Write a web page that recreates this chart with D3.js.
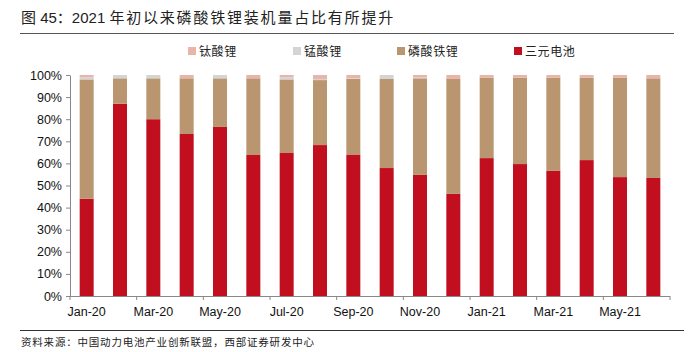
<!DOCTYPE html>
<html>
<head>
<meta charset="utf-8">
<script src="https://cdn.jsdelivr.net/npm/d3@7"></script>
<style>
  body { margin: 0; background: #fff; }
  text { font-family: "Liberation Sans", Arial, "Noto Sans CJK SC", sans-serif; }
  .cjk { font-family: "Liberation Sans", "Noto Sans CJK SC", sans-serif; }
</style>
</head>
<body>
<div id="chart"></div>
<script>
// data (percent)
const months = ["Jan-20", "Feb-20", "Mar-20", "Apr-20", "May-20", "Jun-20", "Jul-20", "Aug-20", "Sep-20",
  "Oct-20", "Nov-20", "Dec-20", "Jan-21", "Feb-21", "Mar-21", "Apr-21", "May-21", "Jun-21"];
const ternary = [44, 87, 80, 73.3, 76.5, 63.8, 64.7, 68.3, 63.8, 57.9, 54.8, 46.2, 62.4, 59.7, 56.6, 61.5, 53.8, 53.4];
const lfp = [54, 11.5, 18.5, 25.2, 22, 34.7, 33.3, 29.4, 34.4, 40.3, 43.7, 52, 36.4, 39.1, 42.2, 37.3, 45, 45.1];
const lmo = [1, 1.5, 1.5, 0, 1.5, 0, 1, 0.5, 0.3, 1.8, 0.3, 0, 0, 0, 0, 0, 0, 0];
const lto = [1, 0, 0, 1.5, 0, 1.5, 1, 1.8, 1.5, 0, 1.2, 1.8, 1.2, 1.2, 1.2, 1.2, 1.2, 1.5];
const yTicks = [0, 10, 20, 30, 40, 50, 60, 70, 80, 90, 100];

const seriesNames = ["三元电池", "磷酸铁锂", "锰酸锂", "钛酸锂"];
const colors = { "三元电池": "#C20F1F", "磷酸铁锂": "#B9966F", "锰酸锂": "#D4D4D4", "钛酸锂": "#E9B5A9" };

const table = months.map((m, i) => ({
  month: m, "三元电池": ternary[i], "磷酸铁锂": lfp[i], "锰酸锂": lmo[i], "钛酸锂": lto[i]
}));

const W = 690, H = 352;
const svg = d3.select("#chart").append("svg").attr("width", W).attr("height", H);

// title
const title = svg.append("text").attr("class", "cjk")
  .attr("x", 21).attr("y", 23)
  .attr("font-size", 15).attr("fill", "#222");
title.append("tspan").text("图 45：2021 ");
title.append("tspan").attr("letter-spacing", 1.8).text("年初以来磷酸铁锂装机量占比有所提升");
svg.append("line").attr("x1", 20).attr("x2", 674).attr("y1", 33.5).attr("y2", 33.5)
  .attr("stroke", "#555").attr("stroke-width", 1.2);

const plotL = 70, plotR = 670, plotT = 75, plotB = 296;

const x = d3.scaleBand().domain(months).range([plotL, plotR]).paddingInner(0.58).paddingOuter(0.29);
const y = d3.scaleLinear().domain([0, 100]).range([plotB, plotT]);

const stacked = d3.stack().keys(seriesNames)(table);

svg.append("g").selectAll("g")
  .data(stacked)
  .enter().append("g")
  .attr("fill", d => colors[d.key])
  .selectAll("rect")
  .data(d => d)
  .enter().append("rect")
  .attr("x", d => x(d.data.month))
  .attr("y", d => y(d[1]))
  .attr("width", x.bandwidth())
  .attr("height", d => Math.max(0, y(d[0]) - y(d[1])));

// y axis
const yAxis = svg.append("g").attr("transform", "translate(" + plotL + ",0)")
  .call(d3.axisLeft(y).tickValues(yTicks).tickFormat(d => d + "%").tickSize(4).tickSizeOuter(0));
yAxis.select(".domain").attr("stroke", "#888");
yAxis.selectAll(".tick line").attr("stroke", "#888");
yAxis.selectAll("text").attr("font-size", 12.5).attr("fill", "#111").attr("x", -8);

// x axis: ticks every two months at band boundaries
const step = x.step();
const xAxis = svg.append("g");
xAxis.append("line").attr("x1", plotL).attr("x2", plotR).attr("y1", plotB + 0.5).attr("y2", plotB + 0.5)
  .attr("stroke", "#888");
xAxis.selectAll(".xt")
  .data(months.filter((m, i) => i % 2 === 0).concat(["end"]))
  .enter().append("line")
  .attr("x1", (d, i) => plotL + i * 2 * step)
  .attr("x2", (d, i) => plotL + i * 2 * step)
  .attr("y1", plotB).attr("y2", plotB + 4)
  .attr("stroke", "#888");
xAxis.selectAll(".xl")
  .data(months.filter((m, i) => i % 2 === 0))
  .enter().append("text")
  .attr("x", d => x(d) + x.bandwidth() / 2)
  .attr("y", plotB + 20)
  .attr("text-anchor", "middle")
  .attr("font-size", 12.5).attr("fill", "#111")
  .text(d => d);

// legend
const legendItems = [
  { name: "钛酸锂", x: 188 },
  { name: "锰酸锂", x: 293 },
  { name: "磷酸铁锂", x: 397 },
  { name: "三元电池", x: 514 }
];
const lg = svg.append("g").selectAll("g").data(legendItems).enter().append("g")
  .attr("transform", d => "translate(" + d.x + ",47)");
lg.append("rect").attr("width", 8).attr("height", 8).attr("fill", d => colors[d.name]);
lg.append("text").attr("class", "cjk").attr("x", 11).attr("y", 9)
  .attr("font-size", 12).attr("letter-spacing", 0.6).attr("fill", "#222").text(d => d.name);

// footer
svg.append("line").attr("x1", 20).attr("x2", 684).attr("y1", 330.5).attr("y2", 330.5)
  .attr("stroke", "#333").attr("stroke-width", 1);
svg.append("text").attr("class", "cjk").attr("x", 21).attr("y", 346)
  .attr("font-size", 10.5).attr("letter-spacing", 0.8).attr("fill", "#222")
  .text("资料来源：中国动力电池产业创新联盟，西部证券研发中心");
</script>
</body>
</html>
